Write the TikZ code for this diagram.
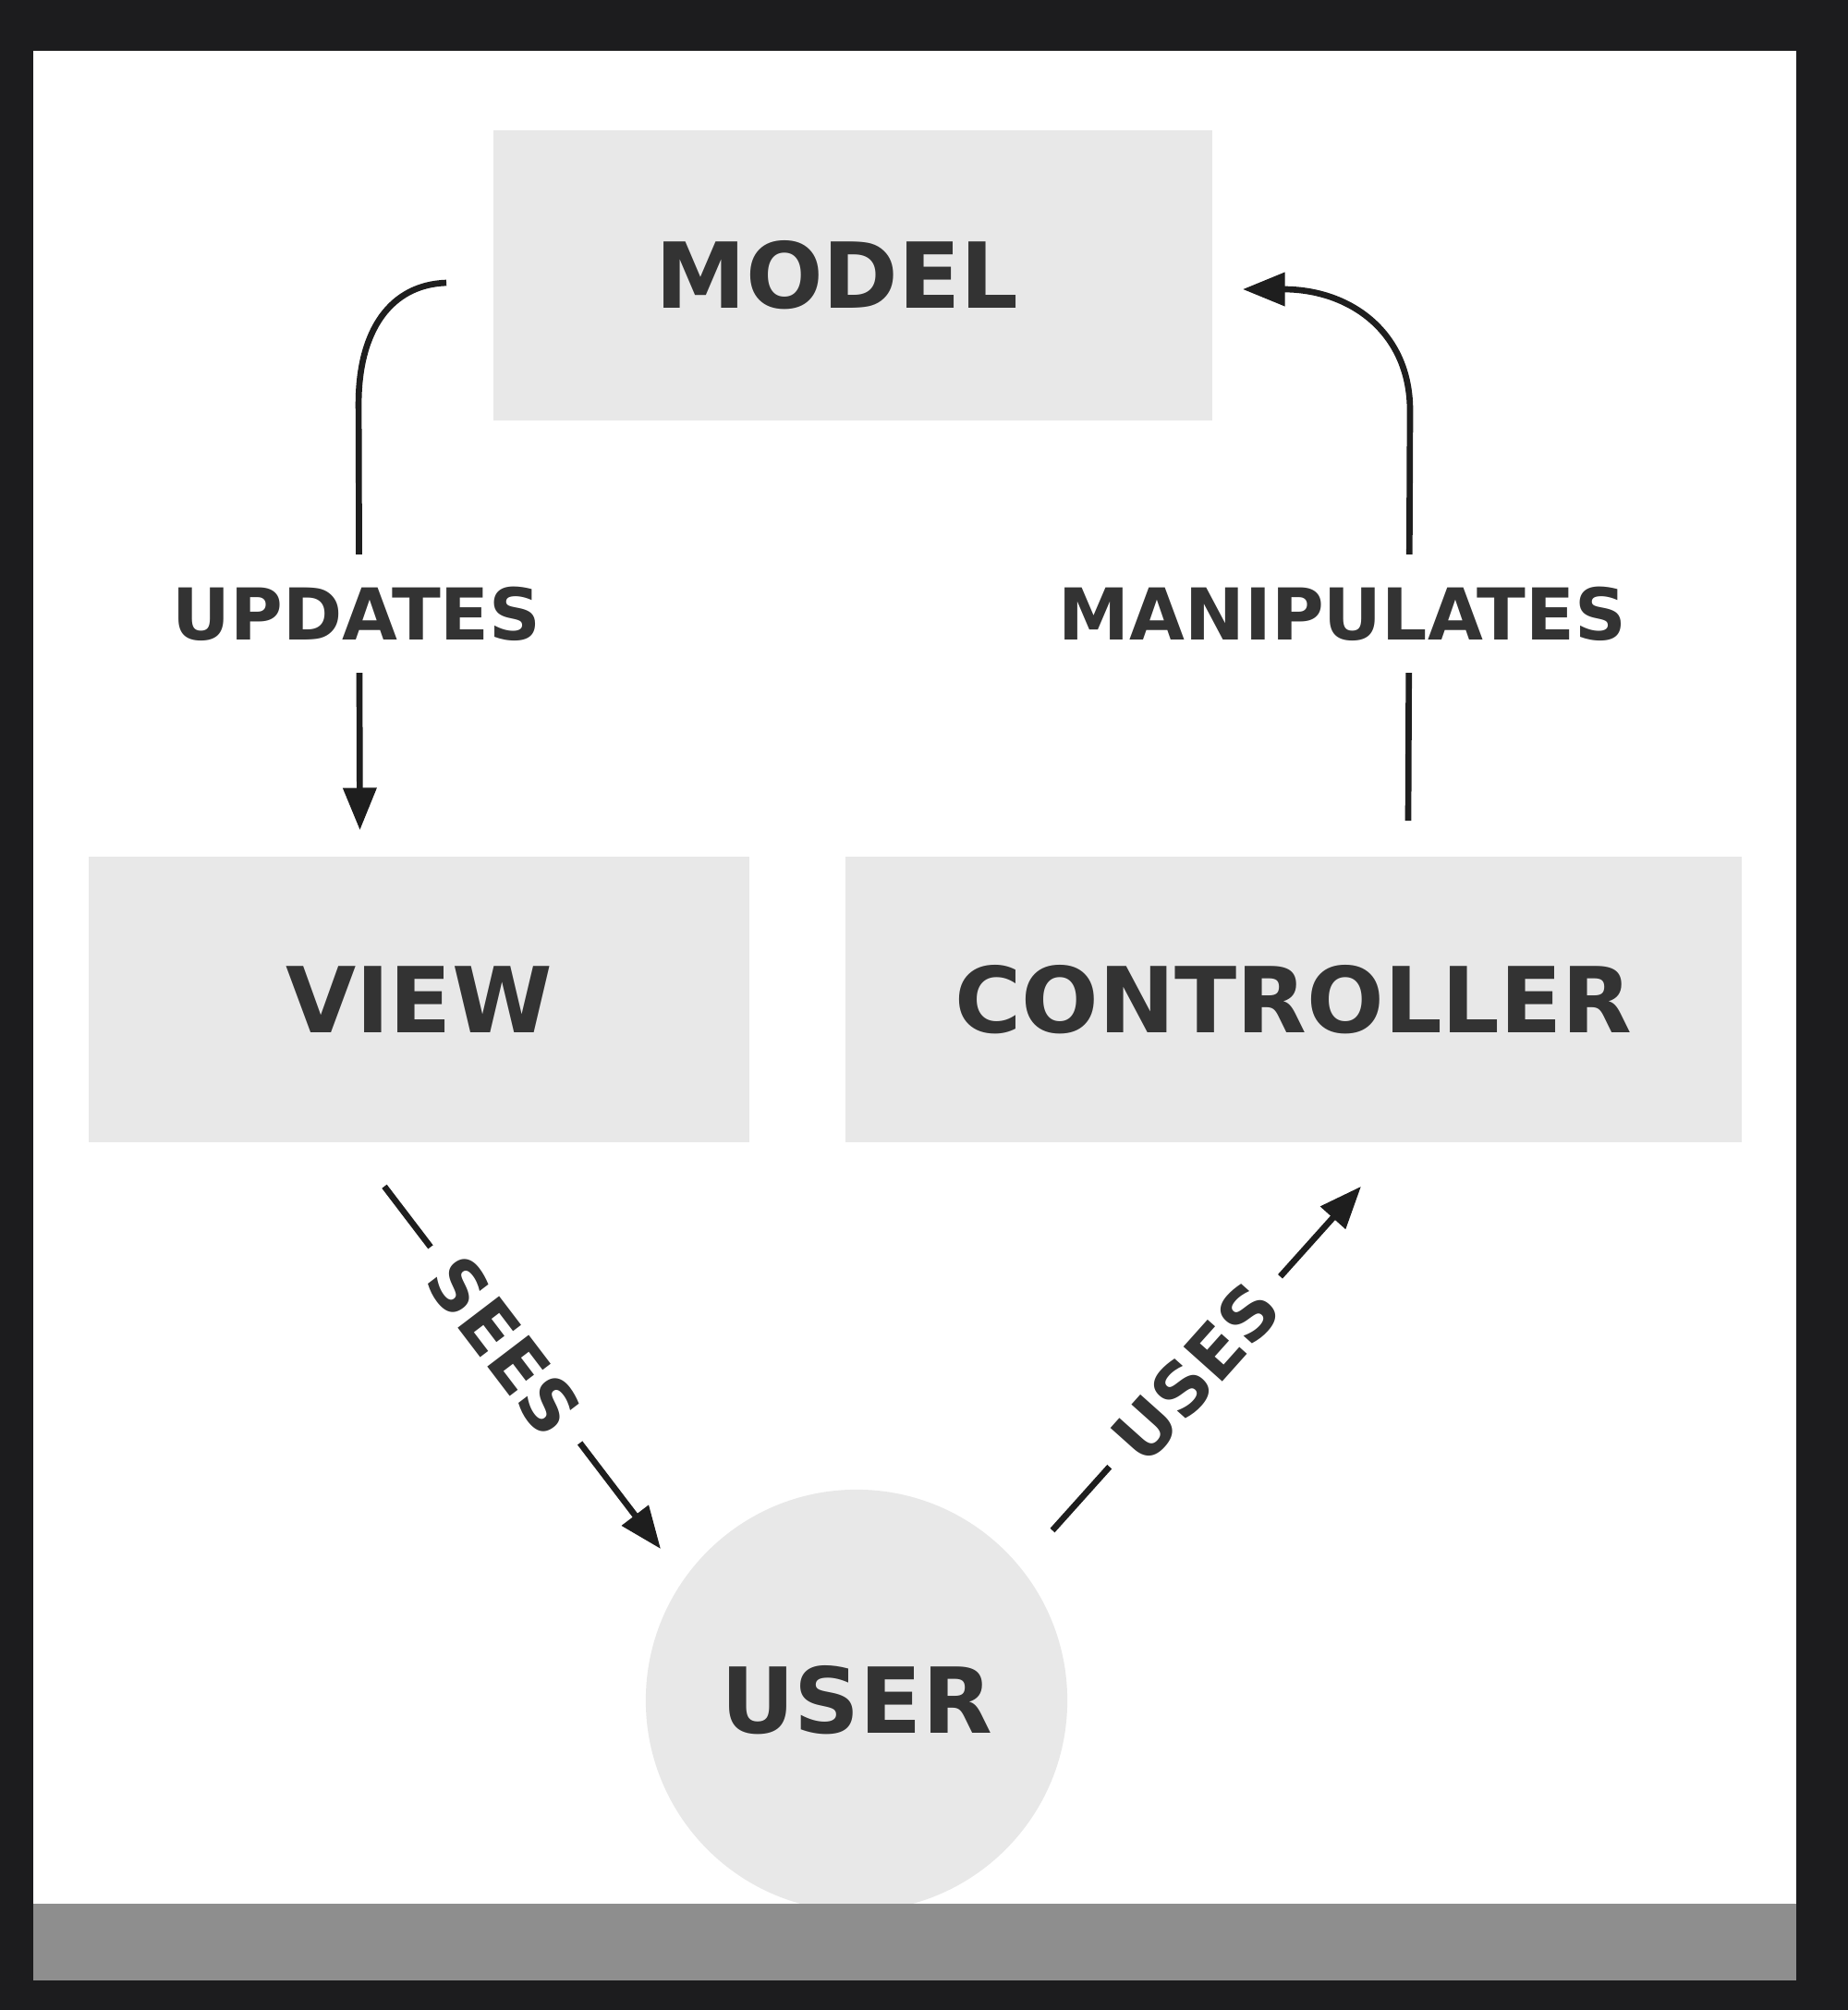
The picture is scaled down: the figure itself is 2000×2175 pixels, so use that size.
\documentclass[tikz,border=0pt]{standalone}
\usepackage{fontspec}
\setmainfont{DejaVu Sans}
\usetikzlibrary{arrows.meta}
\definecolor{frame}{HTML}{1C1C1E}
\definecolor{boxgray}{HTML}{E8E8E8}
\definecolor{bargray}{HTML}{8E8E8E}
\definecolor{ink}{HTML}{333333}
\definecolor{wire}{HTML}{1E1E1E}

\begin{document}
\begin{tikzpicture}[x=0.01cm, y=-0.01cm,
    block/.style={fill=boxgray, inner sep=0pt, text=ink, font=\fontsize{28}{34}\selectfont\bfseries},
    actor/.style={block, circle, minimum size=4.56cm},
    link/.style={draw=wire, line width=1.9pt},
    tip/.style={link, -{Triangle[length=13pt,width=10pt]}},
    tag/.style={fill=white, text=ink, inner xsep=7pt, inner ysep=10pt, font=\fontsize{22}{26}\selectfont\bfseries}]
  \useasboundingbox (0,0) rectangle (2000,2175);
  \fill[frame] (0,0) rectangle (2000,2175);
  \fill[white] (36,55) rectangle (1944,2060);

  \node[block, minimum width=7.78cm, minimum height=3.14cm] (model) at (923,298) {MODEL\hspace*{3.4mm}};
  \node[block, minimum width=7.15cm, minimum height=3.09cm] (view) at (453.5,1081.5) {VIEW};
  \node[block, minimum width=9.70cm, minimum height=3.09cm] (controller) at (1400,1081.5) {CONTROLLER};
  \node[actor] (user) at (927,1840) {USER};
  \fill[bargray] (36,2060) rectangle (1944,2143);

  % free ends of the connectors
  \coordinate (upd-a) at ([shift={(-50,8)}]model.west);
  \coordinate (upd-b) at ([shift={(-64,-28)}]view.north);
  \coordinate (man-a) at ([shift={(124,-38)}]controller.north);
  \coordinate (man-b) at ([shift={(32,15)}]model.east);
  \coordinate (sees-a) at ([shift={(-37.5,47)}]view.south);
  \coordinate (sees-b) at ([shift={(-212,-164)}]user.center);
  \coordinate (uses-a) at ([shift={(212,-184)}]user.center);
  \coordinate (uses-b) at ([shift={(73,47)}]controller.south);

  \draw[tip] (upd-a) .. controls +(-60,2) and +(0,-80) .. ++(-95,131) -- (upd-b);
  \draw[tip] (man-a) -- ++(2,-444) .. controls +(0,-85) and +(116,0) .. (man-b);
  \draw[tip] (sees-a) -- (sees-b);
  \draw[tip] (uses-a) -- (uses-b);

  \node[tag] (updates) at (386,664) {UPDATES};
  \node[tag] (manip) at (1453,664) {MANIPULATES};
  \node[tag, rotate=-52.7] (sees) at (546,1456) {SEES};
  \node[tag, rotate=48.2] (uses) at (1294,1485) {USES};
\end{tikzpicture}
\end{document}
